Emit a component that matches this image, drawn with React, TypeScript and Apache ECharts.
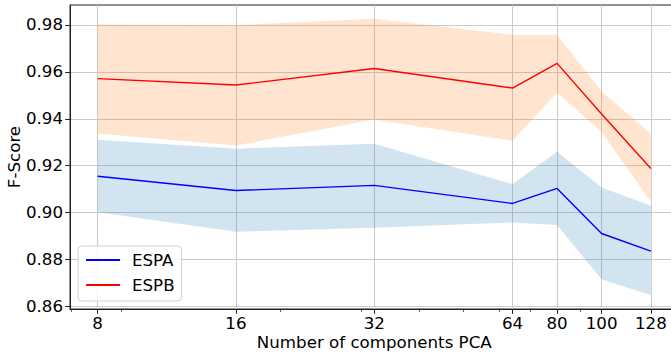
import React, { useEffect, useRef } from 'react';
import * as echarts from 'echarts';

// Number of PCA components (x values, log-scaled axis)
const components = [8, 16, 32, 64, 80, 100, 128];
const minorTickValues = [7, 9, 20, 30, 40, 50, 60, 70, 90];
const yTickValues = [0.86, 0.88, 0.9, 0.92, 0.94, 0.96, 0.98];

const espa = [0.9155, 0.9094, 0.9116, 0.9039, 0.9103, 0.8911, 0.8836];
const espaLow = [0.9001, 0.8918, 0.8935, 0.8958, 0.8947, 0.8716, 0.8648];
const espaHigh = [0.9311, 0.9272, 0.9294, 0.9121, 0.9259, 0.9107, 0.9029];

const espb = [0.9571, 0.9544, 0.9614, 0.9531, 0.9636, 0.942, 0.9188];
const espbLow = [0.9337, 0.9286, 0.9397, 0.9306, 0.9511, 0.9344, 0.9046];
const espbHigh = [0.9802, 0.9799, 0.9826, 0.9758, 0.9758, 0.9516, 0.9337];

const FONT = 'DejaVu Sans';
const FS = 16.67;

export default function App() {
  const ref = useRef<HTMLDivElement>(null);

  useEffect(() => {
    const chart = echarts.init(ref.current!, null, { renderer: 'svg' });
    const lx = (n: number) => Math.log2(n);
    const xLo = lx(components[0]);
    const xHi = lx(components[components.length - 1]);
    const xPad = (xHi - xLo) * 0.05;

    const band = (name: string, lo: number[], hi: number[], color: string) => ({
      type: 'custom',
      name,
      silent: true,
      z: 1,
      data: [[lx(components[0]), lo[0]]],
      renderItem: (_params: any, api: any) => {
        const pts: number[][] = [];
        components.forEach((n, i) => pts.push(api.coord([lx(n), hi[i]])));
        for (let i = components.length - 1; i >= 0; i--) {
          pts.push(api.coord([lx(components[i]), lo[i]]));
        }
        return { type: 'polygon', shape: { points: pts }, style: { fill: color } };
      },
    });

    const line = (name: string, values: number[], color: string) => ({
      type: 'line',
      name,
      z: 3,
      symbol: 'none',
      data: components.map((n, i) => [lx(n), values[i]]),
      lineStyle: { color, width: 1.4 },
      itemStyle: { color },
    });

    chart.setOption({
      animation: false,
      backgroundColor: '#fff',
      textStyle: { fontFamily: FONT },
      grid: {
        left: 70,
        top: 5,
        width: 608.5,
        height: 304,
        outerBoundsMode: 'none',
        containLabel: false,
        show: true,
        borderColor: '#222',
        borderWidth: 1,
        backgroundColor: '#fff',
      },
      legend: {
        data: ['ESPA', 'ESPB'],
        orient: 'vertical',
        left: 78,
        top: 246,
        itemWidth: 34,
        itemHeight: 14,
        itemGap: 5,
        padding: [4, 7, 6, 7],
        backgroundColor: 'rgba(255,255,255,0.8)',
        borderColor: '#d0d0d0',
        borderWidth: 1,
        borderRadius: 4,
        itemStyle: { opacity: 0 },
        textStyle: {
          fontSize: FS,
          lineHeight: 20,
          color: '#000',
          fontFamily: FONT,
          padding: [0, 0, 0, 7],
        },
      },
      xAxis: [
        {
          type: 'value',
          position: 'bottom',
          min: xLo - xPad,
          max: xHi + xPad,
          name: 'Number of components PCA',
          nameLocation: 'middle',
          nameGap: 25,
          nameMoveOverlap: false,
          nameTextStyle: { fontSize: FS, color: '#000', fontFamily: FONT },
          axisLine: { lineStyle: { color: '#222', width: 1 } },
          axisTick: {
            customValues: components.map(lx),
            length: 4.8,
            lineStyle: { color: '#222', width: 1 },
          },
          axisLabel: {
            customValues: components.map(lx),
            formatter: (v: number) => String(Math.round(Math.pow(2, v))),
            fontSize: FS,
            color: '#000',
            fontFamily: FONT,
            margin: 6,
          },
          splitLine: { show: true, lineStyle: { color: '#cbcbcb', width: 1 } },
        },
        {
          type: 'value',
          position: 'bottom',
          min: xLo - xPad,
          max: xHi + xPad,
          axisLine: { show: false },
          axisLabel: { show: false },
          splitLine: { show: false },
          axisTick: {
            customValues: minorTickValues.map(lx),
            length: 2.8,
            lineStyle: { color: '#222', width: 0.8 },
          },
        },
      ],
      yAxis: {
        type: 'value',
        min: 0.8589,
        max: 0.9885,
        name: 'F-Score',
        nameLocation: 'middle',
        nameGap: 47,
        nameMoveOverlap: false,
        nameTextStyle: { fontSize: FS, color: '#000', fontFamily: FONT },
        axisLine: { show: true, lineStyle: { color: '#222', width: 1 } },
        axisTick: {
          show: true,
          customValues: yTickValues,
          length: 4.8,
          lineStyle: { color: '#222', width: 1 },
        },
        axisLabel: {
          customValues: yTickValues,
          formatter: (v: number) => v.toFixed(2),
          fontSize: FS,
          color: '#000',
          fontFamily: FONT,
          margin: 7,
        },
        splitLine: { show: true, lineStyle: { color: '#cbcbcb', width: 1 } },
      },
      series: [
        band('ESPA band', espaLow, espaHigh, 'rgba(31,119,180,0.2)'),
        line('ESPA', espa, '#0000ff'),
        band('ESPB band', espbLow, espbHigh, 'rgba(255,127,14,0.2)'),
        line('ESPB', espb, '#ff0000'),
      ],
    });

    return () => chart.dispose();
  }, []);

  return (
    <div
      ref={ref}
      style={{ position: 'fixed', left: 0, top: 0, width: 671, height: 353 }}
    />
  );
}
